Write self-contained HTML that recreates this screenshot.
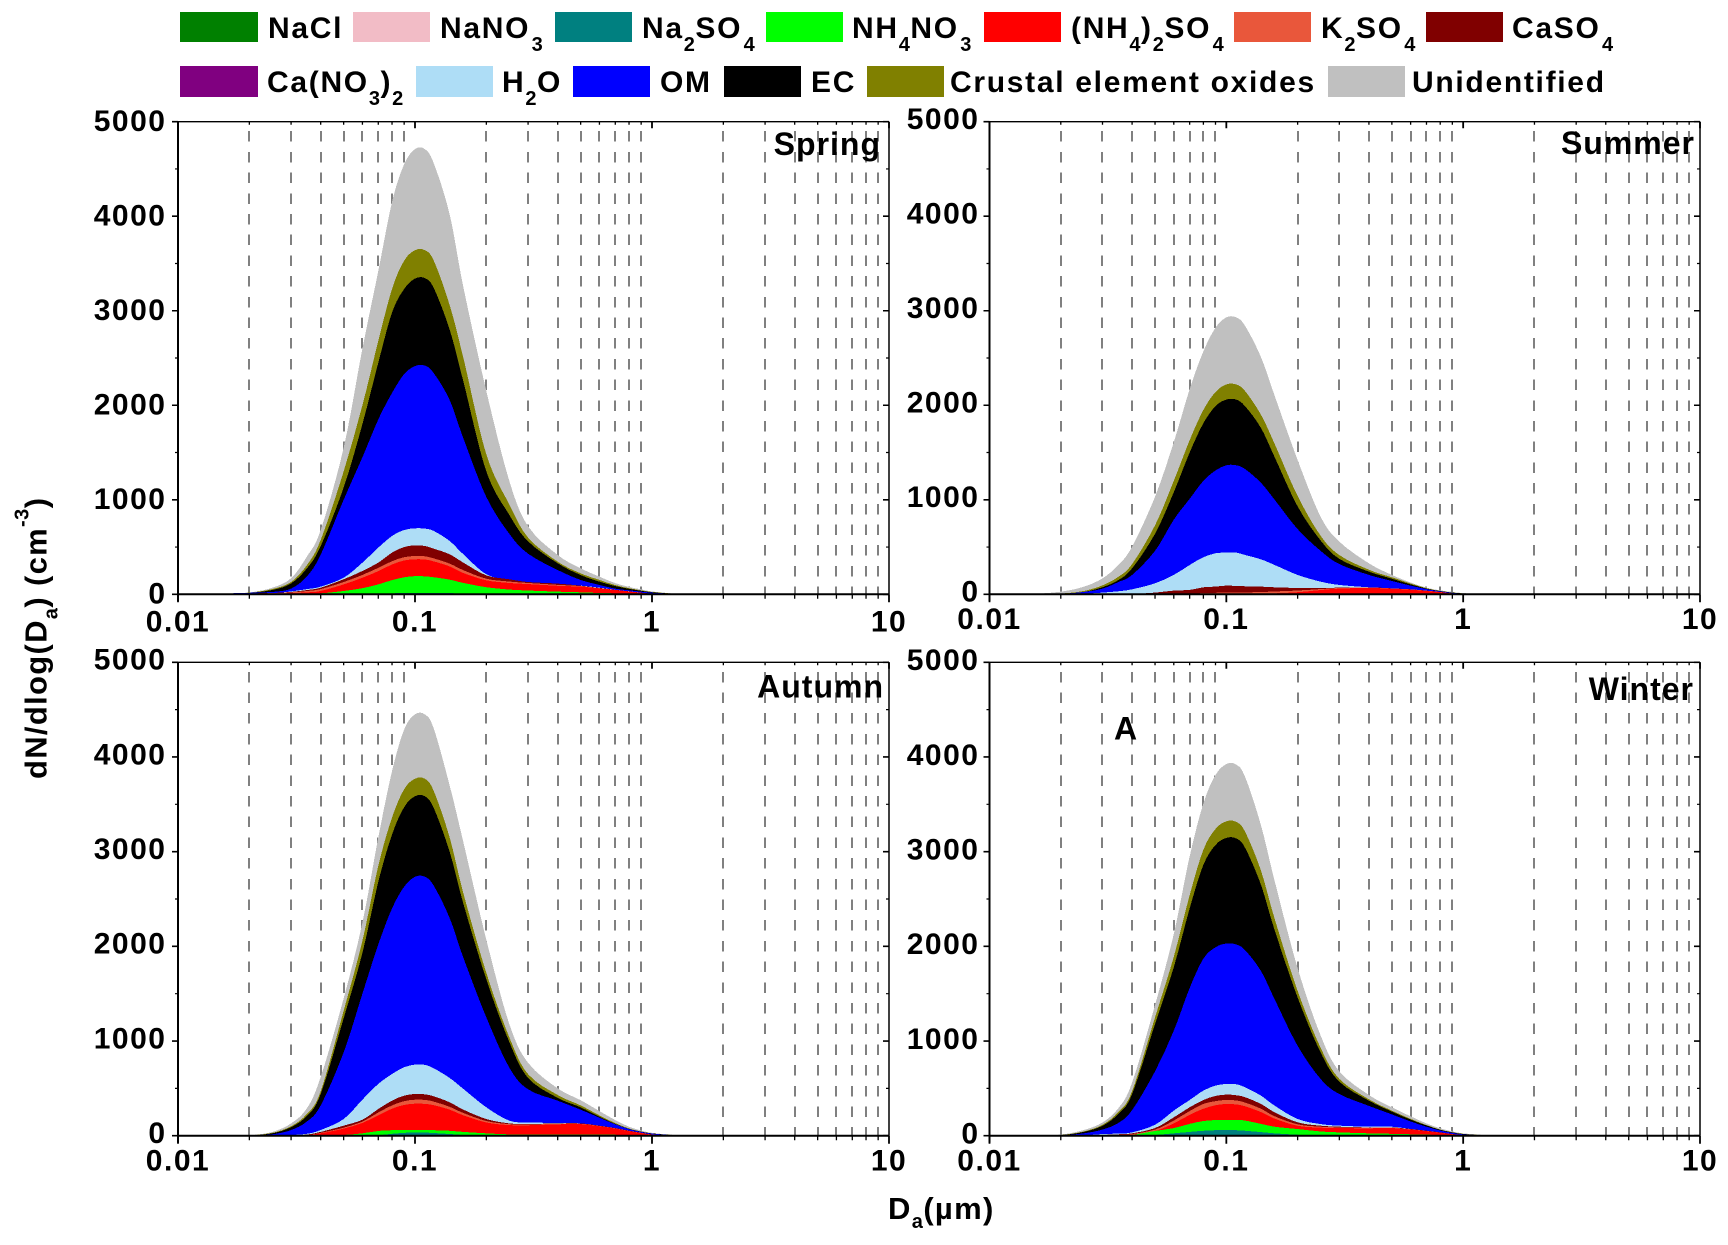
<!DOCTYPE html>
<html lang="en">
<head>
<meta charset="utf-8">
<title>Seasonal size-resolved aerosol composition</title>
<style>
html,body{margin:0;padding:0;background:#fff;width:1728px;height:1245px;overflow:hidden}
svg{display:block;position:absolute;left:0;top:0}
text{font-family:"Liberation Sans",Arial,sans-serif;font-weight:bold;fill:#000}
.lg{font-size:30px;letter-spacing:1.7px}
.sb{font-size:20px;letter-spacing:0.5px}
.tick{font-size:30px;letter-spacing:1.5px}
.season{font-size:32px;letter-spacing:1px}
.title{font-size:31px;letter-spacing:1.3px}
</style>
</head>
<body>
<svg id="chart" xmlns="http://www.w3.org/2000/svg" width="1728" height="1245" viewBox="0 0 1728 1245">
  <rect x="0" y="0" width="1728" height="1245" fill="#ffffff"/>
  <g id="panels"></g>
  <g>
    <g><rect x="180" y="12" width="78" height="30" fill="#008000"/><text class="lg" x="268" y="38">NaCl</text></g>
    <g><rect x="353" y="12" width="77" height="30" fill="#f2bcc6"/><text class="lg" x="440" y="38">NaNO<tspan class="sb" dy="13" dx="1.5">3</tspan></text></g>
    <g><rect x="555" y="12" width="77" height="30" fill="#008080"/><text class="lg" x="642" y="38">Na<tspan class="sb" dy="13">2</tspan><tspan dy="-13">SO</tspan><tspan class="sb" dy="13" dx="1.5">4</tspan></text></g>
    <g><rect x="766" y="12" width="77" height="30" fill="#00ff00"/><text class="lg" x="852" y="38">NH<tspan class="sb" dy="13">4</tspan><tspan dy="-13">NO</tspan><tspan class="sb" dy="13" dx="1.5">3</tspan></text></g>
    <g><rect x="984" y="12" width="77" height="30" fill="#ff0000"/><text class="lg" x="1071" y="38">(NH<tspan class="sb" dy="13">4</tspan><tspan dy="-13">)</tspan><tspan class="sb" dy="13">2</tspan><tspan dy="-13">SO</tspan><tspan class="sb" dy="13" dx="1.5">4</tspan></text></g>
    <g><rect x="1234" y="12" width="77" height="30" fill="#e9573b"/><text class="lg" x="1321" y="38">K<tspan class="sb" dy="13">2</tspan><tspan dy="-13">SO</tspan><tspan class="sb" dy="13" dx="1.5">4</tspan></text></g>
    <g><rect x="1426" y="12" width="77" height="30" fill="#800000"/><text class="lg" x="1512" y="38">CaSO<tspan class="sb" dy="13" dx="1.5">4</tspan></text></g>
    <g><rect x="180" y="66" width="78" height="31" fill="#800080"/><text class="lg" x="267" y="92">Ca(NO<tspan class="sb" dy="13">3</tspan><tspan dy="-13">)</tspan><tspan class="sb" dy="13">2</tspan></text></g>
    <g><rect x="416" y="66" width="77" height="31" fill="#aeddf6"/><text class="lg" x="502" y="92">H<tspan class="sb" dy="13">2</tspan><tspan dy="-13">O</tspan></text></g>
    <g><rect x="573" y="66" width="77" height="31" fill="#0000ff"/><text class="lg" x="660" y="92">OM</text></g>
    <g><rect x="724" y="66" width="77" height="31" fill="#000000"/><text class="lg" x="811" y="92">EC</text></g>
    <g><rect x="867" y="66" width="77" height="31" fill="#808000"/><text class="lg" x="950" y="92">Crustal element oxides</text></g>
    <g><rect x="1328" y="66" width="77" height="31" fill="#c0c0c0"/><text class="lg" x="1412" y="92">Unidentified</text></g>
  </g>
  <text class="title" transform="translate(46.5,779) rotate(-90)">dN/dlog(D<tspan class="sb" dy="11">a</tspan><tspan dy="-11">) (cm</tspan><tspan class="sb" dy="-18">-3</tspan><tspan dy="18">)</tspan></text>
  <text class="title" x="888" y="1219">D<tspan class="sb" dy="9">a</tspan><tspan dy="-9">(µm)</tspan></text>
  <text class="season" x="1114" y="739.5">A</text>
</svg>
<script>
// Diameter categories (µm)
const diameters = [0.011,0.015,0.02,0.025,0.03,0.035,0.04,0.05,0.06,0.07,0.08,0.09,0.1,0.11,0.12,0.14,0.16,0.2,0.25,0.3,0.4,0.5,0.6,0.7,0.8,0.9,1,1.2,1.4];
const yTickValues = [0,1000,2000,3000,4000,5000];
const yMinorValues = [500,1500,2500,3500,4500];
const xTickValues = [0.01,0.1,1,10];
const xTickLabels = ["0.01","0.1","1","10"];

// Stacked upper boundaries (dN/dlogDa, cm-3), one array per layer
const springUnidentified = [0,3,20,70,170,400,680,1550,2600,3420,4150,4550,4710,4710,4560,4020,3250,2150,1200,720,416,275,187,118,78,52,30,11,1];
const springCrustal = [0,0,18,55,130,310,575,1300,2000,2680,3230,3530,3640,3640,3530,3060,2500,1480,950,600,345,222,152,97,65,42,25,9,1];
const springEC = [0,0,15,45,115,275,510,1130,1800,2450,2980,3230,3340,3345,3240,2800,2250,1300,840,560,328,204,134,87,58,37,22,7,1];
const springOM = [8,8,16,25,60,190,420,1000,1450,1850,2130,2330,2415,2420,2340,2056,1650,1030,640,430,257,152,99,60,42,28,17,7,1];
const springH2O = [0,0,0,10,30,55,81,176,335,494,617,680,698,695,670,564,423,212,148,123,106,92,70,48,32,17,7,0,0];
const springCaSO4 = [8,8,10,14,25,45,70,159,247,335,441,500,518,511,483,423,335,200,159,130,113,91,67,47,31,17,7,0,0];
const springK2SO4 = [8,8,9,12,20,35,55,130,205,280,350,393,405,402,380,325,255,165,135,120,100,87,65,46,30,16,6,0,0];
const springNH42SO4 = [7,7,8,9,12,20,35,105,175,245,315,358,370,368,348,295,225,148,120,108,90,81,63,46,30,16,6,0,0];
const springNH4NO3 = [0,0,0,0,0,5,10,35,65,105,150,180,192,190,180,155,120,75,50,40,28,21,14,10,5,2,0,0,0];
const springNa2SO4 = [0,0,0,0,0,0,0,0,1,5,10,14,16,15,14,12,8,3,0,0,0,0,0,0,0,0,0,0,0];

const summerUnidentified = [0,3,28,80,169,310,504,1033,1610,2170,2570,2820,2930,2930,2840,2510,2100,1421,822,557,328,205,125,70,42,25,13,3,0];
const summerCrustal = [0,0,8,35,95,185,320,730,1200,1630,1950,2140,2220,2220,2150,1900,1590,1040,620,415,260,180,115,64,36,20,10,2,0];
const summerEC = [0,0,6,25,75,150,275,640,1080,1500,1810,1990,2060,2060,1990,1760,1450,930,570,375,240,165,105,60,34,18,9,2,0];
const summerOM = [0,0,5,25,60,130,205,460,790,1010,1200,1310,1365,1365,1325,1180,1000,690,460,320,205,141,92,55,31,15,7,2,0];
const summerH2O = [0,0,0,5,18,32,53,116,205,310,392,434,441,441,416,370,310,205,134,99,74,60,53,39,25,10,3,0,0];
const summerCaSO4 = [0,0,0,0,0,1,3,18,39,46,74,81,92,88,85,81,74,67,67,70,74,63,53,39,25,10,3,0,0];
const summerK2SO4 = [0,0,0,0,0,0,0,0,2,8,12,16,20,20,20,24,30,40,55,66,72,62,52,38,24,9,2,0,0];
const summerNH42SO4 = [0,0,0,0,0,0,0,0,0,0,1,2,3,3,3,5,10,22,45,60,67,58,48,35,22,8,2,0,0];
const summerNH4NO3 = [0,0,0,0,0,0,0,0,0,0,0,0,0,0,0,0,0,2,6,7,7,6,2,0,0,0,0,0,0];
const summerNa2SO4 = [0,0,0,0,0,0,0,0,0,0,0,0,0,0,0,0,0,0,0,0,0,0,0,0,0,0,0,0,0];

const autumnUnidentified = [0,0,5,40,130,290,620,1450,2250,3150,3850,4290,4450,4450,4300,3700,3100,2070,1180,770,500,375,260,165,95,55,30,11,1];
const autumnCrustal = [0,0,4,30,100,230,470,1320,2060,2850,3360,3660,3770,3770,3640,3150,2560,1720,1040,650,430,320,215,133,76,45,25,9,1];
const autumnEC = [0,0,4,25,90,210,440,1240,1930,2680,3180,3470,3585,3585,3460,3000,2450,1650,990,610,400,300,200,124,72,42,24,8,1];
const autumnOM = [0,0,2,15,60,150,320,880,1500,2020,2400,2630,2735,2735,2640,2300,1880,1250,720,490,370,275,190,120,70,40,22,7,1];
const autumnH2O = [0,0,0,2,7,20,60,176,381,547,652,723,751,748,712,610,494,300,159,141,134,130,106,81,53,32,14,0,0];
const autumnCaSO4 = [0,0,0,1,3,12,40,106,169,282,370,423,441,437,416,353,275,176,130,123,130,130,106,81,53,32,14,0,0];
const autumnK2SO4 = [0,0,0,0,2,8,30,85,150,245,320,365,380,378,360,305,240,155,122,118,125,126,103,78,50,30,12,0,0];
const autumnNH42SO4 = [0,0,0,0,1,6,25,75,135,215,285,325,338,336,322,275,215,140,112,110,120,122,100,75,48,28,10,0,0];
const autumnNH4NO3 = [0,0,0,0,0,0,2,8,25,50,58,60,62,60,58,52,40,25,14,12,12,12,11,10,2,0,0,0,0];
const autumnNa2SO4 = [0,0,0,0,0,0,0,0,2,5,20,30,35,33,28,18,8,3,0,0,0,0,0,0,0,0,0,0,0];

const winterUnidentified = [0,0,12,60,140,290,560,1380,2130,2950,3510,3810,3925,3920,3790,3280,2690,1770,1060,680,430,300,205,130,78,46,25,9,1];
const winterCrustal = [0,0,8,45,115,250,470,1250,1890,2540,3020,3240,3320,3315,3210,2800,2290,1530,930,600,385,265,178,112,65,37,20,7,1];
const winterEC = [0,0,6,40,105,230,440,1180,1780,2400,2860,3070,3145,3140,3040,2650,2170,1460,880,570,370,255,170,108,62,35,18,6,1];
const winterOM = [0,0,3,25,65,135,270,680,1110,1560,1870,1990,2030,2020,1960,1740,1440,950,600,440,315,225,150,95,55,30,14,4,1];
const winterH2O = [0,0,0,3,18,22,35,116,265,377,476,529,547,543,511,423,317,176,123,106,95,95,71,53,35,18,7,0,0];
const winterCaSO4 = [0,0,0,1,8,15,25,81,194,300,377,420,434,427,406,335,247,141,106,95,88,88,71,53,35,18,7,0,0];
const winterK2SO4 = [0,0,0,0,5,10,18,65,160,260,335,365,378,372,350,285,205,120,95,88,84,84,68,50,33,16,6,0,0];
const winterNH42SO4 = [0,0,0,0,3,7,12,50,130,220,285,322,335,330,310,250,180,105,85,80,78,80,65,48,32,15,5,0,0];
const winterNH4NO3 = [0,0,0,0,2,5,8,50,80,125,155,165,168,167,160,125,95,70,45,35,25,20,15,12,5,2,0,0,0];
const winterNa2SO4 = [0,0,0,0,0,0,0,8,25,40,52,58,60,58,52,38,25,10,5,3,2,0,0,0,0,0,0,0,0];

const layerNames = ["unidentified","crustal","ec","om","h2o","caso4","k2so4","nh42so4","nh4no3","na2so4"];
const layerColors = ["#c0c0c0","#808000","#000000","#0000ff","#aeddf6","#800000","#e9573b","#ff0000","#00ff00","#008080"];

const panels = [
  {name:"spring",title:"Spring",left:178,right:889,top:121.7,base:594.3,labelRight:166.5,yDy:-1.5,xBase:631.7,titleX:881,titleY:155,
   layers:[springUnidentified,springCrustal,springEC,springOM,springH2O,springCaSO4,springK2SO4,springNH42SO4,springNH4NO3,springNa2SO4]},
  {name:"summer",title:"Summer",left:989.5,right:1700,top:121.7,base:594.3,labelRight:979.5,yDy:-3.5,xBase:629,titleX:1695,titleY:154,
   layers:[summerUnidentified,summerCrustal,summerEC,summerOM,summerH2O,summerCaSO4,summerK2SO4,summerNH42SO4,summerNH4NO3,summerNa2SO4]},
  {name:"autumn",title:"Autumn",left:178,right:889,top:662.3,base:1135.7,labelRight:166.5,yDy:-3.5,xBase:1170.7,titleX:884,titleY:697.6,
   layers:[autumnUnidentified,autumnCrustal,autumnEC,autumnOM,autumnH2O,autumnCaSO4,autumnK2SO4,autumnNH42SO4,autumnNH4NO3,autumnNa2SO4]},
  {name:"winter",title:"Winter",left:989.5,right:1700,top:662.3,base:1135.7,labelRight:979.5,yDy:-3,xBase:1170.7,titleX:1694,titleY:700,
   layers:[winterUnidentified,winterCrustal,winterEC,winterOM,winterH2O,winterCaSO4,winterK2SO4,winterNH42SO4,winterNH4NO3,winterNa2SO4]}
];

const NS = "http://www.w3.org/2000/svg";
function make(tag, attrs, parent) {
  const node = document.createElementNS(NS, tag);
  for (const key in attrs) node.setAttribute(key, attrs[key]);
  parent.appendChild(node);
  return node;
}
function xScale(p, d) { return p.left + (Math.log10(d) + 2) * (p.right - p.left) / 3; }
function yScale(p, v) { return p.base - v / 5000 * (p.base - p.top); }

function minorDiameters() {
  const out = [];
  [0.01, 0.1, 1].forEach(function (decade) {
    for (let m = 2; m <= 9; m++) out.push(+(decade * m).toFixed(3));
  });
  return out;
}

function areaPath(p, values) {
  const pts = diameters.map(function (d, i) { return [xScale(p, d), yScale(p, values[i])]; });
  let path = "M" + pts[0][0].toFixed(2) + " " + p.base + " L" + pts[0][0].toFixed(2) + " " + pts[0][1].toFixed(2);
  for (let i = 0; i < pts.length - 1; i++) {
    const a = pts[Math.max(i - 1, 0)], b = pts[i], c = pts[i + 1], e = pts[Math.min(i + 2, pts.length - 1)];
    const c1x = b[0] + (c[0] - a[0]) / 6, c2x = c[0] - (e[0] - b[0]) / 6;
    const c1y = Math.min(b[1] + (c[1] - a[1]) / 6, p.base), c2y = Math.min(c[1] - (e[1] - b[1]) / 6, p.base);
    path += " C" + c1x.toFixed(2) + " " + c1y.toFixed(2) + " " + c2x.toFixed(2) + " " + c2y.toFixed(2) + " " + c[0].toFixed(2) + " " + c[1].toFixed(2);
  }
  return path + " L" + pts[pts.length - 1][0].toFixed(2) + " " + p.base + " Z";
}

function drawPanel(p) {
  const root = document.getElementById("panels");
  const group = make("g", {}, root);
  
  

  minorDiameters().forEach(function (d) {
    const dx = Math.round(xScale(p, d));
    const dash = make("line", {x1: dx, x2: dx, y1: p.top + 9.5, y2: p.base, stroke: "#808080", "stroke-width": 2, "stroke-dasharray": "10.5 10.2", "shape-rendering": "crispEdges"}, group);
    
    
  });

  p.layers.forEach(function (values, i) {
    const area = make("path", {d: areaPath(p, values), fill: layerColors[i], "shape-rendering": "crispEdges"}, group);
    
    
  });

  // frame
  const axisLeft = make("line", {x1: p.left, x2: p.left, y1: p.top, y2: p.base + 7, stroke: "#000", "stroke-width": 2}, group);
  
  
  const axisBottom = make("line", {x1: p.left, x2: p.right, y1: p.base, y2: p.base, stroke: "#000", "stroke-width": 2}, group);
  
  
  const axisTop = make("line", {x1: p.left, x2: p.right, y1: p.top, y2: p.top, stroke: "#000", "stroke-width": 1.4}, group);
  
  
  const axisRight = make("line", {x1: p.right, x2: p.right, y1: p.top, y2: p.base, stroke: "#000", "stroke-width": 1.5}, group);
  
  

  // y ticks
  yTickValues.forEach(function (v) {
    const y = yScale(p, v);
    const tick = make("path", {d: "M" + (p.left - 6) + " " + y + "H" + p.left + "M" + p.right + " " + y + "h-6", stroke: "#000", "stroke-width": 1.6, fill: "none"}, group);
    
    
    const label = make("text", {x: p.labelRight, y: y + p.yDy + 10.8, "text-anchor": "end", class: "tick"}, group);
    label.textContent = String(v);
    
    
  });
  yMinorValues.forEach(function (v) {
    const y = yScale(p, v);
    const tick = make("path", {d: "M" + (p.left - 3) + " " + y + "H" + p.left + "M" + p.right + " " + y + "h-3", stroke: "#000", "stroke-width": 1.2, fill: "none"}, group);
    
    
  });

  // x ticks
  xTickValues.forEach(function (d, i) {
    const x = xScale(p, d);
    const tick = make("path", {d: "M" + x + " " + p.base + "v8M" + x + " " + p.top + "v6.5", stroke: "#000", "stroke-width": 1.8, fill: "none"}, group);
    
    
    const label = make("text", {x: x, y: p.xBase, "text-anchor": "middle", class: "tick"}, group);
    label.textContent = xTickLabels[i];
    
    
  });
  minorDiameters().forEach(function (d) {
    const x = xScale(p, d);
    const tick = make("path", {d: "M" + x + " " + p.base + "v4.5M" + x + " " + p.top + "v3", stroke: "#000", "stroke-width": 1.3, fill: "none"}, group);
    
    
  });

  const title = make("text", {x: p.titleX, y: p.titleY, "text-anchor": "end", class: "season"}, group);
  title.textContent = p.title;
  
  
}

panels.forEach(drawPanel);
</script>
</body>
</html>
